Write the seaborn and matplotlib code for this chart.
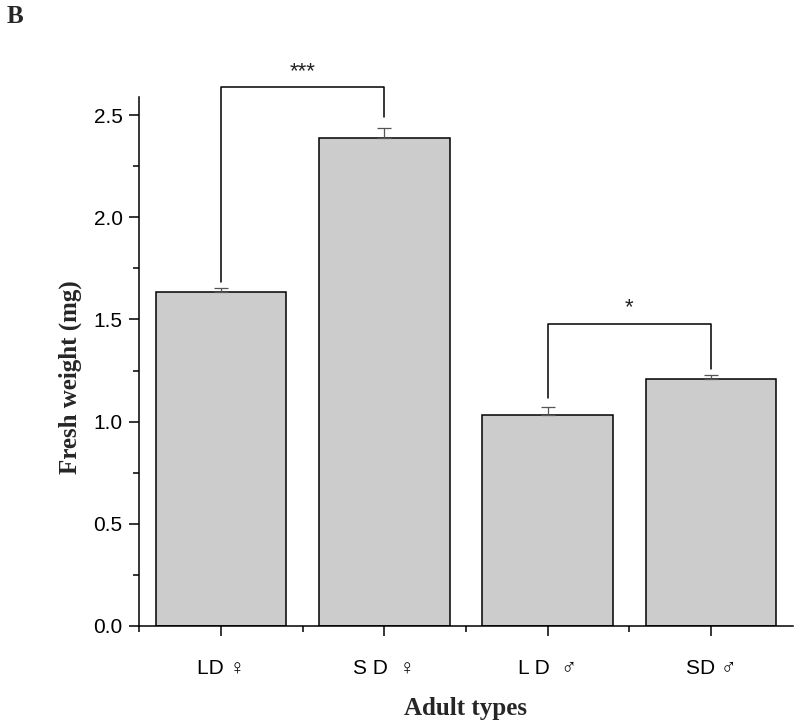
import matplotlib
matplotlib.use("Agg")
import matplotlib.pyplot as plt
import seaborn as sns
import pandas as pd
import numpy as np
from matplotlib.ticker import MultipleLocator, FixedLocator

categories = ["LD ♀", "S D  ♀", "L D  ♂", "SD ♂"]
means = [1.635, 2.39, 1.03, 1.208]
errors = [0.02, 0.048, 0.042, 0.02]

# significance brackets: (left index, right index, top, left leg bottom, right leg bottom, label)
brackets = [
    (0, 1, 2.637, 1.684, 2.49, "***"),
    (2, 3, 1.479, 1.115, 1.257, "*"),
]

sns.set_theme(style="white")
plt.rcParams['font.family'] = ['Liberation Sans', 'DejaVu Sans']

fig = plt.figure(figsize=(8, 7.27), dpi=100)
ax = fig.add_axes([0.174, 0.139, 0.817, 0.728])

df = pd.DataFrame({"type": categories, "weight": means})
sns.barplot(data=df, x="type", y="weight", color="#cccccc", saturation=1,
            edgecolor="black", linewidth=1.1, width=0.8, ax=ax, zorder=2)

x = np.arange(len(categories))
ax.errorbar(x, means, yerr=[np.zeros(len(errors)), errors], fmt="none",
            ecolor="#555555", elinewidth=0.9, capsize=5, capthick=0.9, zorder=3)

for i, j, top, lb, rb, lab in brackets:
    ax.plot([i, i, j, j], [lb, top, top, rb], color="black", lw=1.1,
            clip_on=False, zorder=4)
    ax.text((i + j) / 2, top + 0.025, lab, ha="center", va="bottom",
            fontsize=16, color="#222222", clip_on=False)

ax.set_xlim(-0.5, 3.5)
ax.set_ylim(0, 2.59)
ax.yaxis.set_major_locator(MultipleLocator(0.5))
ax.yaxis.set_minor_locator(MultipleLocator(0.25))
ax.xaxis.set_minor_locator(FixedLocator([-0.5, 0.5, 1.5, 2.5]))
ax.set_yticks([0, 0.5, 1.0, 1.5, 2.0, 2.5])
ax.set_yticklabels(["0.0", "0.5", "1.0", "1.5", "2.0", "2.5"])

for s in ["top", "right"]:
    ax.spines[s].set_visible(False)
for s in ["left", "bottom"]:
    ax.spines[s].set_linewidth(1.1)
    ax.spines[s].set_color("black")

ax.tick_params(axis="both", which="major", direction="out", length=7, width=1.1,
               color="black", labelsize=15, labelcolor="black", left=True, bottom=True)
ax.tick_params(axis="both", which="minor", direction="out", length=4, width=1.1,
               color="black", left=True, bottom=True)
ax.tick_params(axis="x", which="major", pad=17)
ax.tick_params(axis="y", which="major", pad=5)

ax.set_xlabel("Adult types", fontsize=18, fontweight="bold",
              family="Liberation Serif")
ax.set_ylabel("Fresh weight (mg)", fontsize=18, fontweight="bold",
              family="Liberation Serif")
ax.yaxis.set_label_coords(-0.087, 0.47)
ax.xaxis.set_label_coords(0.5, -0.135)
ax.grid(False)

fig.text(0.008, 0.993, "B", fontsize=18, fontweight="bold",
         family="Liberation Serif", ha="left", va="top")

fig.savefig("out.png", dpi=100)
